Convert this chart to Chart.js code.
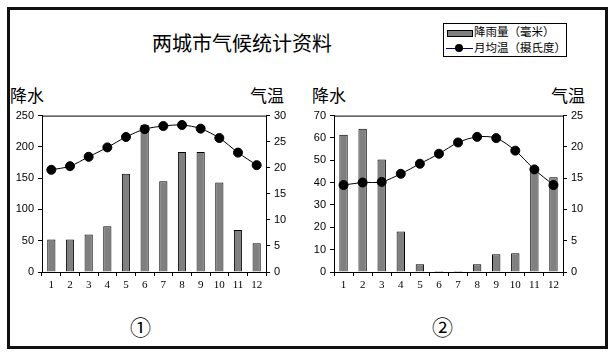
<!DOCTYPE html>
<html><head><meta charset="utf-8">
<script src="https://cdn.jsdelivr.net/npm/chart.js@4/dist/chart.umd.min.js"></script>
<style>
html,body{margin:0;padding:0;background:#fff;}
#wrap{position:relative;width:611px;height:355px;overflow:hidden;font-family:"Noto Sans CJK SC",sans-serif;color:#000;}
#frame{position:absolute;left:7px;top:7px;width:595px;height:336px;border:3px solid #111;}
.t{position:absolute;white-space:nowrap;line-height:1;}
canvas{position:absolute;}
#legend{position:absolute;left:443px;top:23px;width:122px;height:32px;border:1px solid #000;font-size:11.5px;}
</style></head><body>
<div id="wrap">
<div id="frame"></div>
<div class="t" style="left:152px;top:33px;font-size:20px;">两城市气候统计资料</div>
<div id="legend">
  <div style="position:absolute;left:3px;top:6px;width:24px;height:5px;background:#808080;border:1px solid #000;"></div>
  <div class="t" style="left:30px;top:2px;">降雨量（毫米）</div>
  <div style="position:absolute;left:2px;top:24px;width:27px;height:1px;background:#000080;"></div>
  <div style="position:absolute;left:11px;top:20px;width:8px;height:8px;border-radius:50%;background:#000;"></div>
  <div class="t" style="left:30px;top:18px;">月均温（摄氏度）</div>
</div>
<div class="t" style="left:10px;top:86px;font-size:17px;">降水</div>
<div class="t" style="left:250px;top:86px;font-size:17px;">气温</div>
<div class="t" style="left:312px;top:86px;font-size:17px;">降水</div>
<div class="t" style="left:551px;top:86px;font-size:17px;">气温</div>
<div class="t" style="left:130px;top:316px;font-size:21px;">①</div>
<div class="t" style="left:432px;top:316px;font-size:21px;">②</div>
<canvas id="c1" width="300" height="195" style="left:0;top:105px;"></canvas>
<canvas id="c2" width="305" height="195" style="left:300px;top:105px;"></canvas>
</div>
<script>
const months = ['1','2','3','4','5','6','7','8','9','10','11','12'];
const rain1 = [52,52,60,73,157,235,145,192,192,143,67,46];
const temp1 = [19.6,20.3,22.1,23.9,25.9,27.4,28.0,28.2,27.5,25.7,22.9,20.5];
const rain2 = [61.4,64.1,50.4,18.1,3.5,0.4,0.4,3.5,8.0,8.4,47,42.4];
const temp2 = [13.9,14.3,14.4,15.7,17.3,18.9,20.7,21.6,21.4,19.4,16.4,13.9];
const rainAxis1 = {min:0,max:250,step:50};
const tempAxis1 = {min:0,max:30,step:5};
const rainAxis2 = {min:0,max:70,step:10};
const tempAxis2 = {min:0,max:25,step:5};

const topLine = {
  id:'topLine',
  beforeDatasetsDraw(chart){
    const a = chart.chartArea, ctx = chart.ctx;
    ctx.save(); ctx.strokeStyle='#000'; ctx.lineWidth=1;
    ctx.beginPath(); ctx.moveTo(a.left, a.top+0.5); ctx.lineTo(a.right, a.top+0.5); ctx.stroke();
    ctx.restore();
  }
};

function make(id, rain, temp, ra, ta, lw, rw, padTop){
  const tickFont = {family:'Liberation Sans, Arial, sans-serif', size:11};
  return new Chart(document.getElementById(id), {
    data:{
      labels: months,
      datasets:[
        {type:'line', data:temp, yAxisID:'y1', borderColor:'#000', borderWidth:1,
         pointBackgroundColor:'#000', pointBorderColor:'#000', pointRadius:4.5, tension:0.3, order:0},
        {type:'bar', data:rain, yAxisID:'y', backgroundColor:'#808080', borderColor:'#000', borderWidth:1,
         categoryPercentage:1, barPercentage:0.44, order:1}
      ]
    },
    options:{
      responsive:false, animation:false, devicePixelRatio:1,
      layout:{padding:{top:padTop,left:0,right:0,bottom:0}},
      plugins:{legend:{display:false}, tooltip:{enabled:false}},
      scales:{
        x:{ offset:true,
          grid:{display:true, offset:true, drawOnChartArea:false, tickLength:4, color:'#000'},
          border:{color:'#000'},
          ticks:{color:'#000', font:{family:'Liberation Serif, serif', size:11}, padding:3, maxRotation:0, autoSkip:false},
          afterFit(s){ s.height = 28; }
        },
        y:{ position:'left', min:ra.min, max:ra.max,
          grid:{drawOnChartArea:false, tickLength:4, color:'#000'},
          border:{color:'#000'},
          ticks:{stepSize:ra.step, color:'#000', font:tickFont, padding:4},
          afterFit(s){ s.width = lw; }
        },
        y1:{ position:'right', min:ta.min, max:ta.max,
          grid:{drawOnChartArea:false, tickLength:4, color:'#000'},
          border:{color:'#000'},
          ticks:{stepSize:ta.step, color:'#000', font:tickFont, padding:4},
          afterFit(s){ s.width = rw; }
        }
      }
    },
    plugins:[topLine]
  });
}
make('c1', rain1, temp1, rainAxis1, tempAxis1, 42, 34, 10);
make('c2', rain2, temp2, rainAxis2, tempAxis2, 34, 42, 9);
</script>
</body></html>
